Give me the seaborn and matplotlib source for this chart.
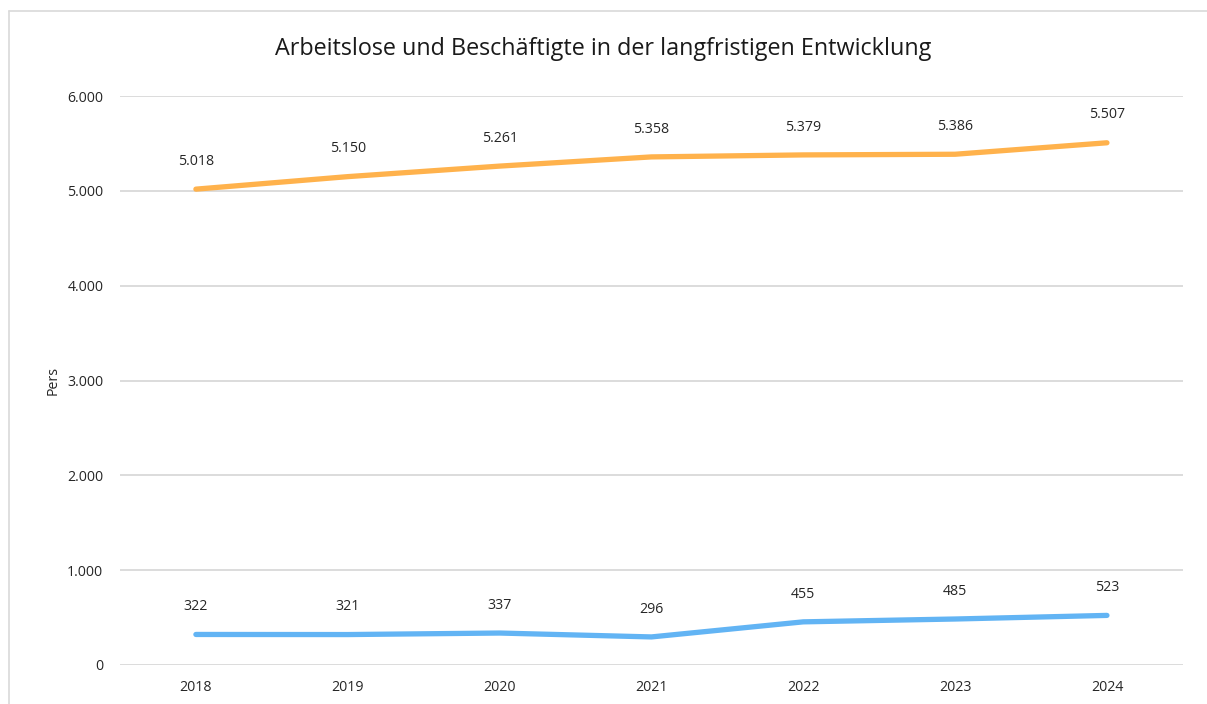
import matplotlib
matplotlib.use("Agg")
import matplotlib.pyplot as plt
import matplotlib.lines as mlines
import seaborn as sns
import pandas as pd

years = ["2018", "2019", "2020", "2021", "2022", "2023", "2024"]
beschaeftigte = [5018, 5150, 5261, 5358, 5379, 5386, 5507]
arbeitslose = [322, 321, 337, 296, 455, 485, 523]
y_ticks = [0, 1000, 2000, 3000, 4000, 5000, 6000]

sns.set_theme(style="white")
plt.rcParams["font.family"] = ["Open Sans", "DejaVu Sans"]

df = pd.DataFrame({
    "Jahr": years * 2,
    "Pers": beschaeftigte + arbeitslose,
    "Reihe": ["Beschäftigte"] * len(years) + ["Arbeitslose"] * len(years),
})
palette = {"Beschäftigte": "#FFB24C", "Arbeitslose": "#62B4F4"}

fig = plt.figure(figsize=(12.07, 7.04), dpi=100)
ax = fig.add_axes([0.0994, 0.0554, 0.8806, 0.8082])

sns.lineplot(data=df, x="Jahr", y="Pers", hue="Reihe", palette=palette,
             linewidth=3.8, solid_capstyle="round", legend=False, ax=ax,
             sort=False, zorder=3)

def fmt(v):
    return f"{v:,}".replace(",", ".")

for series in (beschaeftigte, arbeitslose):
    for i, v in enumerate(series):
        ax.annotate(fmt(v), (i, v), xytext=(0, 20), textcoords="offset points",
                    ha="center", va="center", fontsize=10.2, color="#262626")

ax.set_xlim(-0.5, len(years) - 0.5)
ax.set_ylim(0, 6000)
ax.set_yticks(y_ticks)
ax.set_yticklabels([fmt(t) for t in y_ticks])
ax.yaxis.grid(True, color="#D9D9D9", linewidth=1.3)
ax.xaxis.grid(False)
for s in ax.spines.values():
    s.set_visible(False)
ax.tick_params(axis="both", length=0, labelsize=10.2, colors="#262626")
ax.tick_params(axis="y", pad=12)
ax.tick_params(axis="x", pad=11)
ax.set_xlabel("")
ax.set_ylabel("Pers", fontsize=10.2, color="#262626")
ax.yaxis.set_label_coords(-0.056, 0.5)

fig.text(0.5, 0.931, "Arbeitslose und Beschäftigte in der langfristigen Entwicklung",
         ha="center", va="center", fontsize=16.8, color="#1a1a1a")

# outer chart frame
W, H = 1207, 704
fig.add_artist(mlines.Line2D([8.5 / W, 8.5 / W], [0, 1 - 10.5 / H],
                             transform=fig.transFigure, color="#D9D9D9", linewidth=1.2))
fig.add_artist(mlines.Line2D([8.5 / W, 1], [1 - 10.5 / H, 1 - 10.5 / H],
                             transform=fig.transFigure, color="#D9D9D9", linewidth=1.2))

fig.savefig("out.png", dpi=100)
